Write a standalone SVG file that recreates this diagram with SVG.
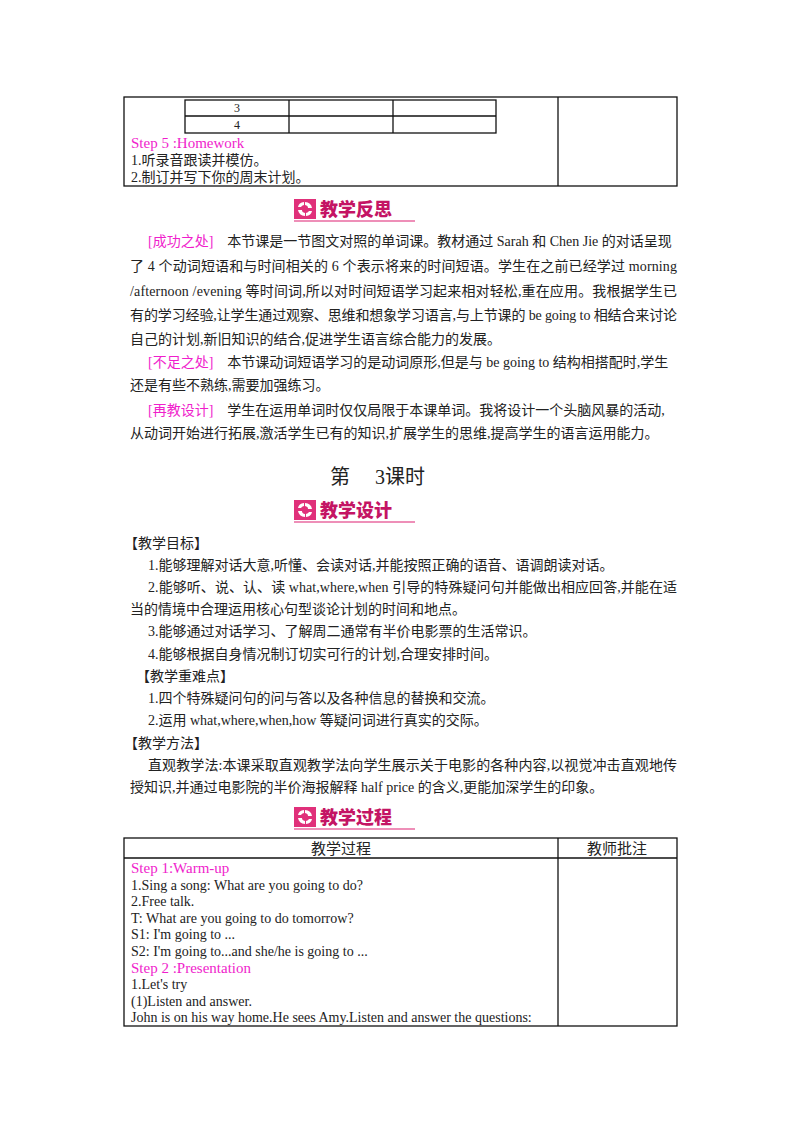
<svg xmlns="http://www.w3.org/2000/svg" width="800" height="1132" viewBox="0 0 800 1132">
<style>
text{font-family:"Liberation Serif","Noto Sans CJK SC",serif;fill:#222;font-size:14px}
.s{font-size:14px}
.m{fill:#f01ecc;font-size:15px}
.b{font-family:"Noto Sans CJK SC",sans-serif;font-weight:900;fill:#c41464;font-size:18px}
.ln{stroke:#111;stroke-width:1.3;fill:none}
</style>
<defs>
<g id="ban">
<rect x="0" y="0" width="22" height="20" fill="#e0307a"/>
<path d="M11 3 a8 7 0 0 1 7 6 l-4 0 a4 3 0 0 0 -3 -3 z M11 17 a8 7 0 0 1 -7 -6 l4 0 a4 3 0 0 0 3 3 z M4 8 a7 6 0 0 1 6 -5 l0 3 a4 3 0 0 0 -3 2z M18 12 a7 6 0 0 1 -6 5 l0 -3 a4 3 0 0 0 3 -2z" fill="#fff"/>
<line x1="0" y1="22" x2="121" y2="22" stroke="#e86aa0" stroke-width="1.5"/>
</g>
</defs>
<rect width="800" height="1132" fill="#fff"/>
<g id="table1">
<rect class="ln" x="124" y="97" width="553" height="89"/>
<line class="ln" x1="558" y1="97" x2="558" y2="186"/>
<rect class="ln" x="185" y="100" width="311" height="33"/>
<line class="ln" x1="185" y1="116" x2="496" y2="116"/>
<line class="ln" x1="289" y1="100" x2="289" y2="133"/>
<line class="ln" x1="393" y1="100" x2="393" y2="133"/>
<text x="237" y="112" text-anchor="middle" style="font-size:12px">3</text>
<text x="237" y="129" text-anchor="middle" style="font-size:12px">4</text>
<text class="m" x="131" y="148">Step 5 :Homework</text>
<text class="s" x="131" y="165">1.听录音跟读并模仿。</text>
<text class="s" x="131" y="182">2.制订并写下你的周末计划。</text>
</g>
<g id="banner1"><use href="#ban" x="294" y="199"/><text class="b" x="320" y="216">教学反思</text></g>
<g id="reflect">
<text x="148" y="246"><tspan class="m" style="font-size:14px">[成功之处]</tspan>　本节课是一节图文对照的单词课。教材通过 Sarah 和 Chen Jie 的对话呈现</text>
<text x="130" y="271" textLength="547">了 4 个动词短语和与时间相关的 6 个表示将来的时间短语。学生在之前已经学过 morning</text>
<text x="130" y="296" textLength="547">/afternoon /evening  等时间词,所以对时间短语学习起来相对轻松,重在应用。我根据学生已</text>
<text x="130" y="320" textLength="547">有的学习经验,让学生通过观察、思维和想象学习语言,与上节课的 be going to 相结合来讨论</text>
<text x="130" y="344">自己的计划,新旧知识的结合,促进学生语言综合能力的发展。</text>
<text x="148" y="367"><tspan class="m" style="font-size:14px">[不足之处]</tspan>　本节课动词短语学习的是动词原形,但是与 be going to  结构相搭配时,学生</text>
<text x="130" y="390">还是有些不熟练,需要加强练习。</text>
<text x="148" y="415"><tspan class="m" style="font-size:14px">[再教设计]</tspan>　学生在运用单词时仅仅局限于本课单词。我将设计一个头脑风暴的活动,</text>
<text x="130" y="438">从动词开始进行拓展,激活学生已有的知识,扩展学生的思维,提高学生的语言运用能力。</text>
</g>
<text x="330" y="484" style="font-size:20px">第　  3课时</text>
<g id="banner2"><use href="#ban" x="294" y="500"/><text class="b" x="320" y="517">教学设计</text></g>
<g id="design">
<text x="124" y="548">【教学目标】</text>
<text x="148" y="570">1.能够理解对话大意,听懂、会读对话,并能按照正确的语音、语调朗读对话。</text>
<text x="148" y="592" textLength="529">2.能够听、说、认、读 what,where,when 引导的特殊疑问句并能做出相应回答,并能在适</text>
<text x="130" y="614">当的情境中合理运用核心句型谈论计划的时间和地点。</text>
<text x="148" y="636">3.能够通过对话学习、了解周二通常有半价电影票的生活常识。</text>
<text x="148" y="659">4.能够根据自身情况制订切实可行的计划,合理安排时间。</text>
<text x="136" y="681">【教学重难点】</text>
<text x="148" y="703">1.四个特殊疑问句的问与答以及各种信息的替换和交流。</text>
<text x="148" y="725">2.运用 what,where,when,how 等疑问词进行真实的交际。</text>
<text x="124" y="748">【教学方法】</text>
<text x="148" y="770" textLength="529">直观教学法:本课采取直观教学法向学生展示关于电影的各种内容,以视觉冲击直观地传</text>
<text x="130" y="792">授知识,并通过电影院的半价海报解释 half price 的含义,更能加深学生的印象。</text>
</g>
<g id="banner3"><use href="#ban" x="294" y="807"/><text class="b" x="320" y="824">教学过程</text></g>
<g id="table2">
<rect class="ln" x="124" y="838" width="553" height="188"/>
<line class="ln" x1="124" y1="858" x2="677" y2="858"/>
<line class="ln" x1="558" y1="838" x2="558" y2="1026"/>
<text x="341" y="854" text-anchor="middle" style="font-size:15px">教学过程</text>
<text x="617" y="854" text-anchor="middle" style="font-size:15px">教师批注</text>
<text class="m" x="131" y="873">Step 1:Warm-up</text>
<text class="s" x="131" y="890">1.Sing a song: What are you going to do?</text>
<text class="s" x="131" y="906">2.Free talk.</text>
<text class="s" x="131" y="923">T: What are you going to do tomorrow?</text>
<text class="s" x="131" y="939">S1: I'm going to ...</text>
<text class="s" x="131" y="956">S2: I'm going to...and she/he is going to ...</text>
<text class="m" x="131" y="973">Step 2 :Presentation</text>
<text class="s" x="131" y="989">1.Let's try</text>
<text class="s" x="131" y="1006">(1)Listen and answer.</text>
<text class="s" x="131" y="1022">John is on his way home.He sees Amy.Listen and answer the questions:</text>
</g>
</svg>
